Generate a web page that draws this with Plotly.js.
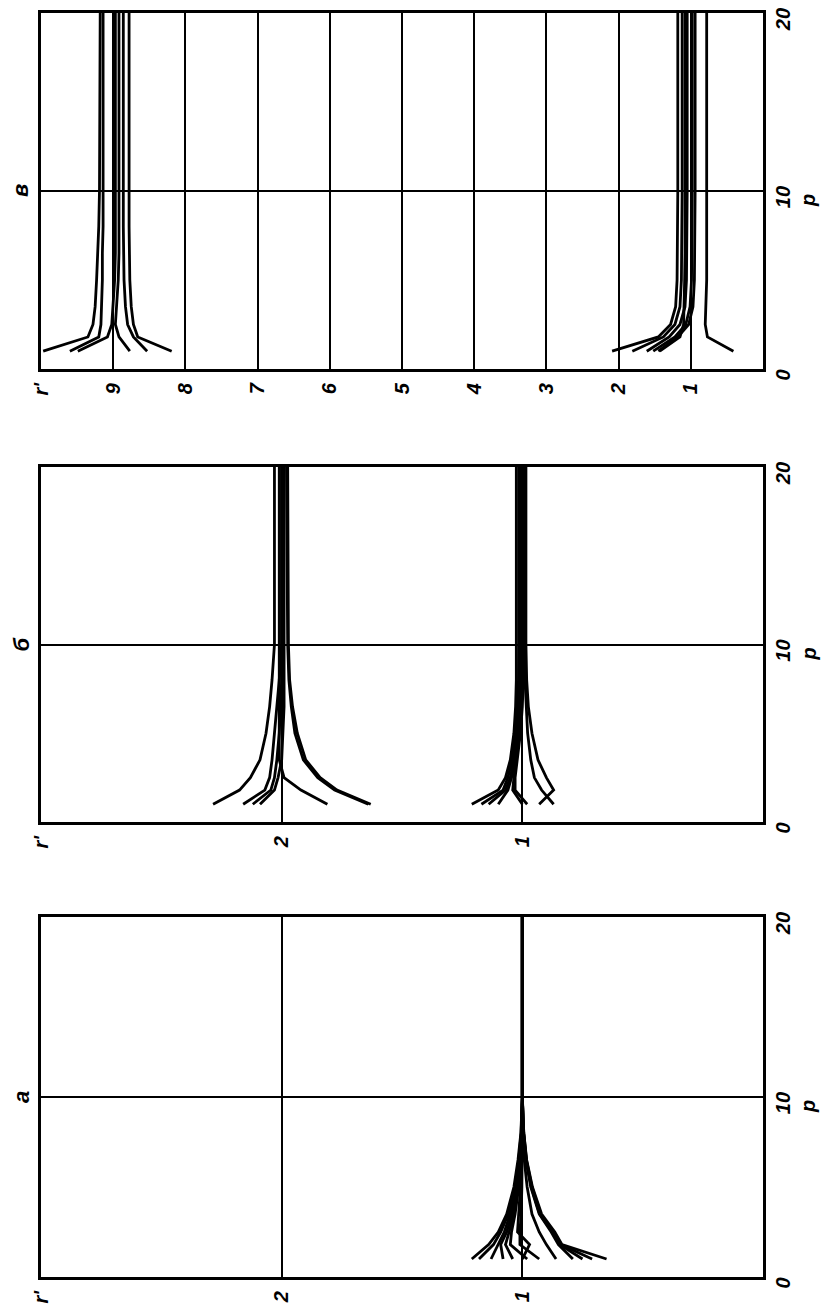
<!DOCTYPE html>
<html>
<head>
<meta charset="utf-8">
<script src="https://cdn.plot.ly/plotly-3.0.1.min.js"></script>
<style>html,body{margin:0;padding:0;background:#fff;}#chart{width:821px;height:1311px;}</style>
</head>
<body>
<div id="chart"></div>
<script>
// shared p grid (vertical axis, p)
const P = [1, 1.8, 2.5, 3.5, 5, 6.5, 8, 10, 20];

// panel "а": r' values of each curve at P
const curvesA = [
  [1.21, 1.14, 1.10, 1.065, 1.035, 1.018, 1.006, 1.0, 1.0],
  [1.18, 1.12, 1.09, 1.058, 1.03, 1.015, 1.005, 1.0, 1.0],
  [1.13, 1.10, 1.075, 1.05, 1.026, 1.012, 1.004, 1.0, 1.0],
  [1.08, 1.09, 1.065, 1.042, 1.022, 1.01, 1.003, 1.0, 1.0],
  [1.04, 1.07, 1.055, 1.036, 1.018, 1.008, 1.002, 1.0, 1.0],
  [0.98, 1.05, 1.045, 1.03, 1.015, 1.006, 1.002, 1.0, 1.0],
  [1.00, 0.97, 1.02, 1.015, 1.008, 1.004, 1.001, 1.0, 1.0],
  [0.93, 1.01, 1.01, 1.005, 1.002, 1.0, 1.0, 1.0, 1.0],
  [0.86, 0.90, 0.93, 0.96, 0.98, 0.992, 0.998, 1.0, 1.0],
  [0.79, 0.85, 0.88, 0.93, 0.965, 0.985, 0.995, 1.0, 1.0],
  [0.75, 0.845, 0.875, 0.928, 0.963, 0.984, 0.995, 1.0, 1.0],
  [0.71, 0.84, 0.87, 0.925, 0.96, 0.983, 0.994, 1.0, 1.0],
  [0.65, 0.835, 0.865, 0.92, 0.958, 0.982, 0.994, 1.0, 1.0]
];

// panel "б": two bundles
const curvesB = [
  [2.285, 2.175, 2.13, 2.09, 2.065, 2.05, 2.04, 2.03, 2.03],
  [2.16, 2.07, 2.05, 2.04, 2.03, 2.02, 2.01, 2.0, 2.0],
  [2.12, 2.045, 2.03, 2.02, 2.01, 2.005, 2.0, 2.0, 2.0],
  [2.09, 2.03, 2.015, 2.0, 1.995, 1.99, 1.99, 1.99, 1.99],
  [1.81, 1.92, 1.99, 2.01, 2.01, 2.01, 2.01, 2.01, 2.01],
  [1.63, 1.77, 1.84, 1.90, 1.935, 1.955, 1.967, 1.972, 1.975],
  [1.64, 1.78, 1.85, 1.91, 1.945, 1.96, 1.97, 1.975, 1.98],
  [1.21, 1.10, 1.07, 1.05, 1.035, 1.028, 1.025, 1.025, 1.025],
  [1.17, 1.08, 1.06, 1.042, 1.027, 1.02, 1.016, 1.015, 1.015],
  [1.14, 1.07, 1.05, 1.035, 1.02, 1.013, 1.01, 1.01, 1.01],
  [1.10, 1.06, 1.045, 1.03, 1.015, 1.006, 1.002, 1.0, 1.0],
  [1.00, 1.04, 1.035, 1.025, 1.015, 1.01, 1.006, 1.005, 1.005],
  [0.98, 1.03, 1.03, 1.02, 1.008, 1.0, 0.996, 0.995, 0.995],
  [0.93, 0.87, 0.90, 0.935, 0.96, 0.975, 0.982, 0.985, 0.985],
  [0.87, 0.92, 0.95, 0.965, 0.978, 0.985, 0.989, 0.99, 0.99]
];

// panel "в": two bundles
const curvesV = [
  [9.97, 9.35, 9.28, 9.25, 9.23, 9.21, 9.2, 9.19, 9.18],
  [9.60, 9.20, 9.17, 9.16, 9.15, 9.15, 9.14, 9.14, 9.14],
  [9.49, 9.08, 9.02, 9.0, 8.98, 8.97, 8.97, 8.97, 8.97],
  [8.77, 8.92, 8.97, 8.95, 8.93, 8.92, 8.92, 8.92, 8.92],
  [8.53, 8.72, 8.80, 8.83, 8.85, 8.86, 8.86, 8.86, 8.86],
  [8.19, 8.66, 8.72, 8.75, 8.77, 8.78, 8.78, 8.78, 8.78],
  [2.09, 1.45, 1.28, 1.21, 1.19, 1.185, 1.18, 1.18, 1.18],
  [1.81, 1.38, 1.22, 1.15, 1.13, 1.125, 1.12, 1.12, 1.12],
  [1.61, 1.30, 1.15, 1.08, 1.06, 1.055, 1.05, 1.05, 1.05],
  [1.52, 1.22, 1.07, 1.01, 0.99, 0.985, 0.98, 0.98, 0.98],
  [1.45, 1.18, 1.03, 0.97, 0.95, 0.945, 0.94, 0.94, 0.94],
  [1.43, 1.15, 1.10, 1.09, 1.085, 1.08, 1.08, 1.08, 1.08],
  [0.41, 0.77, 0.80, 0.79, 0.78, 0.78, 0.78, 0.78, 0.78]
];

// tick labels
const pTicks = [0, 10, 20];
const pTickText = ['0', '10', '20'];
const rTicks3 = [1, 2, 3];
const rTickText3 = ['1', '2', "r'"];
const rTicks10 = [1, 2, 3, 4, 5, 6, 7, 8, 9, 10];
const rTickText10 = ['1', '2', '3', '4', '5', '6', '7', '8', '9', "r'"];
const panelTitles = ['в', 'б', 'а'];

const font = {family: 'Liberation Sans, Arial, sans-serif', size: 20, color: '#000', style: 'italic', weight: 'bold'};

const traces = [];
function addCurves(curves, xa, ya) {
  curves.forEach(r => traces.push({
    x: r, y: P, xaxis: xa, yaxis: ya, type: 'scatter', mode: 'lines',
    line: {color: '#000', width: 2.8}, hoverinfo: 'skip', showlegend: false
  }));
}
addCurves(curvesV, 'x', 'y');
addCurves(curvesB, 'x2', 'y2');
addCurves(curvesA, 'x3', 'y3');

const W = 821, H = 1311;
const xDom = [41 / W, 763 / W];
const yDoms = [
  [1 - 369 / H, 1 - 13 / H],
  [1 - 822 / H, 1 - 467 / H],
  [1 - 1277 / H, 1 - 917 / H]
];

function rAxis(anchor, maxR, tv, tt) {
  return {
    domain: xDom, anchor: anchor, range: [maxR, 0], autorange: false,
    tickvals: tv, ticktext: tt, tickangle: -90, ticks: '', ticklabelstandoff: 3,
    showgrid: true, gridcolor: '#000', gridwidth: 2, zeroline: false,
    showline: true, mirror: true, linecolor: '#000', linewidth: 3,
    tickfont: font, automargin: false, fixedrange: true
  };
}
function pAxis(anchor, dom) {
  return {
    domain: dom, anchor: anchor, side: 'right', range: [0, 20], autorange: false,
    tickvals: pTicks, ticktext: pTickText, tickangle: -90, ticks: '', ticklabelstandoff: 0,
    ticklabelshift: 9,
    showgrid: true, gridcolor: '#000', gridwidth: 2, zeroline: false,
    showline: true, mirror: true, linecolor: '#000', linewidth: 3,
    tickfont: font, automargin: false, fixedrange: true
  };
}

const annotations = [];
['y', 'y2', 'y3'].forEach((ya, i) => {
  annotations.push({xref: 'paper', yref: ya, x: 21 / W, y: 10, xanchor: 'center', yanchor: 'middle',
    text: panelTitles[i], showarrow: false, textangle: -90, font: Object.assign({}, font, {size: 22})});
  annotations.push({xref: 'paper', yref: ya, x: 808 / W, y: 10, xanchor: 'center', yanchor: 'middle',
    yshift: -10, text: 'p', showarrow: false, textangle: -90, font: font});
});

const layout = {
  width: W, height: H,
  margin: {l: 0, r: 0, t: 0, b: 0, pad: 0},
  paper_bgcolor: '#fff', plot_bgcolor: '#fff',
  showlegend: false,
  xaxis: rAxis('y', 10, rTicks10, rTickText10),
  yaxis: pAxis('x', yDoms[0]),
  xaxis2: rAxis('y2', 3, rTicks3, rTickText3),
  yaxis2: pAxis('x2', yDoms[1]),
  xaxis3: rAxis('y3', 3, rTicks3, rTickText3),
  yaxis3: pAxis('x3', yDoms[2]),
  annotations: annotations
};

Plotly.newPlot('chart', traces, layout, {displayModeBar: false, staticPlot: true});
</script>
</body>
</html>
